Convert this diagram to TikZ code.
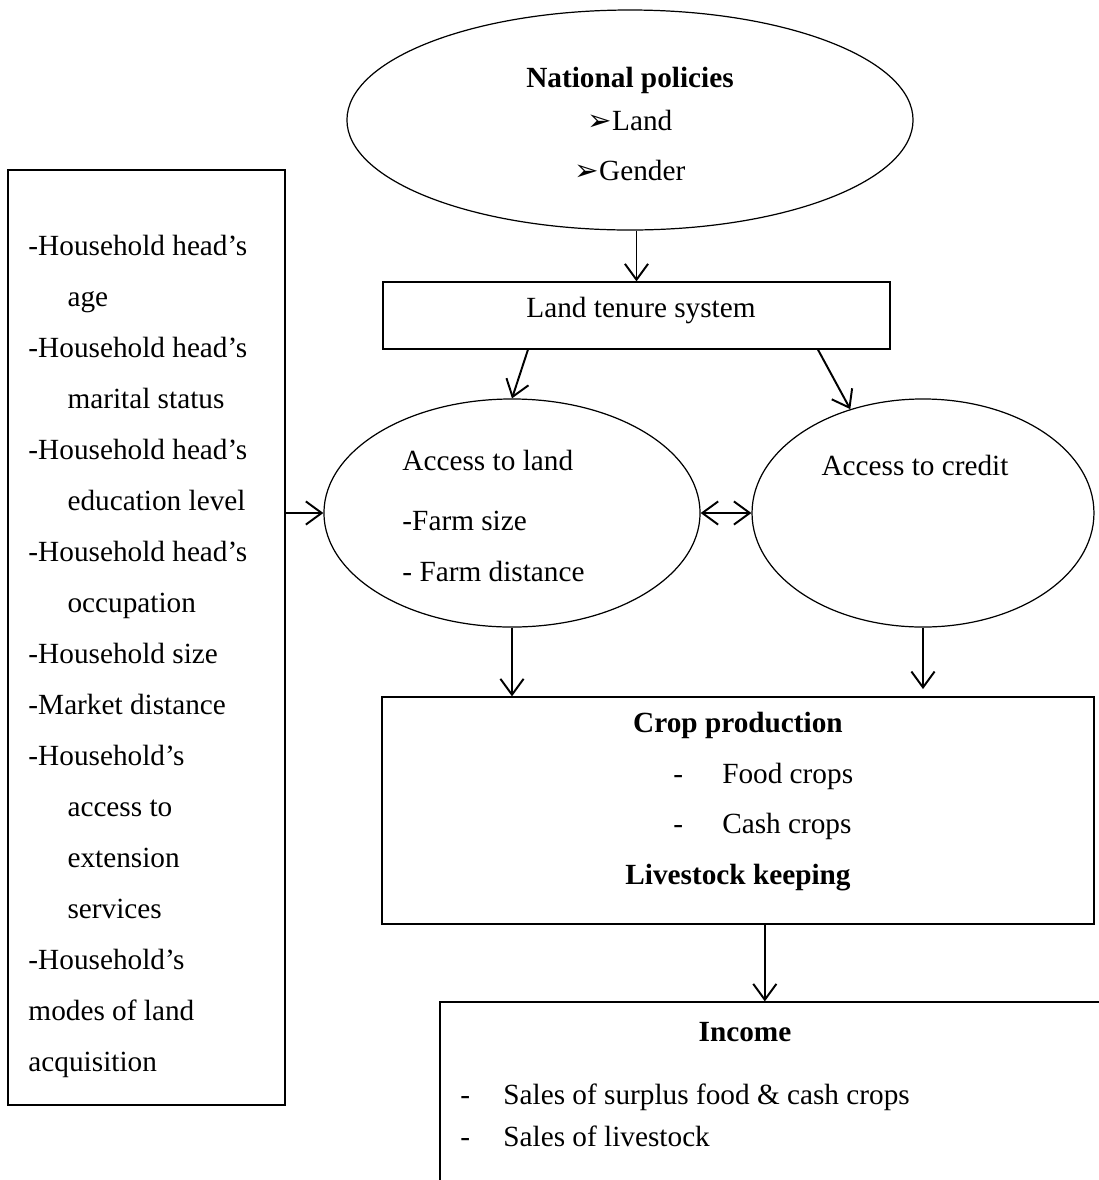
\documentclass[tikz,border=0pt]{standalone}
\usepackage{fontspec}
\setmainfont{Liberation Serif}
\newfontfamily\dingfont{DejaVu Sans}
\usetikzlibrary{arrows.meta,positioning,shapes.geometric}

\begin{document}
\begin{tikzpicture}[x=0.41pt,y=-0.41pt,->,>={Straight Barb[length=6.5pt,width=9.5pt]},on grid,
  every edge/.style={draw,line width=0.8pt},
  frame/.style={draw,line width=0.5pt,rectangle,inner sep=0pt},
  oval/.style={draw,line width=0.5pt,ellipse,inner sep=0pt},
  txt/.style={font=\fontsize{12pt}{20.9pt}\selectfont,inner sep=0pt},
  head/.style={font=\fontsize{12pt}{20.9pt}\selectfont\bfseries,inner sep=0pt}]
\useasboundingbox (0,0) rectangle (1099,1180);

% shapes
\node[oval,minimum width=232.1pt,minimum height=90.2pt] (pol) at (630,120) {};
\node[frame,minimum width=207.9pt,minimum height=27.5pt] (ten) at (636.5,315.5) {};
\node[frame,minimum width=113.6pt,minimum height=383.4pt] (hh) at (146.5,637.5) {};
\node[oval,minimum width=154.2pt,minimum height=93.5pt] (land) at (512,513) {};
\node[oval,minimum width=140.2pt,minimum height=93.5pt] (cred) at (923,513) {};
\node[frame,minimum width=291.9pt,minimum height=93.1pt] (crop) at (738,810.5) {};
\node[frame,minimum width=278.8pt,minimum height=94.3pt] (inc) at (780,1117) {};

% texts
\node[head] (pol_t) at (630,80) {National policies};
\node[txt] (pol_a) [below=16.4pt of pol_t] {{\dingfont ➢}Land};
\node[txt] (pol_b) [below=20.5pt of pol_a] {{\dingfont ➢}Gender};
\node[txt] (ten_t) at (641,310) {Land tenure system};
\node[txt,align=left,anchor=north west] (hh_t) at (28,235) {-Household head’s\\
  \hspace*{16pt}age\\
  -Household head’s\\
  \hspace*{16pt}marital status\\
  -Household head’s\\
  \hspace*{16pt}education level\\
  -Household head’s\\
  \hspace*{16pt}occupation\\
  -Household size\\
  -Market distance\\
  -Household’s\\
  \hspace*{16pt}access to\\
  \hspace*{16pt}extension\\
  \hspace*{16pt}services\\
  -Household’s\\
  modes of land\\
  acquisition};
\node[txt,align=left,anchor=north west] (land_t) at (402,450) {Access to land\\[3.7pt]
  -Farm size\\
  - Farm distance};
\node[txt] (cred_t) at (915,465) {Access to credit};
\node[head] (crop_t) at (738,725) {Crop production};
\node[txt,anchor=west] (crop_a) at (673,776) {\makebox[20pt][l]{-}Food crops};
\node[txt,anchor=west] (crop_b) at (673,826) {\makebox[20pt][l]{-}Cash crops};
\node[head] (crop_c) at (738,878) {Livestock keeping};
\node[head] (inc_t) at (745,1032) {Income};
\node[txt,anchor=west] (inc_a) at (460,1097) {\makebox[17.6pt][l]{-}Sales of surplus food \& cash crops};
\node[txt,anchor=west] (inc_b) at (460,1136) {\makebox[17.6pt][l]{-}Sales of livestock};

% arrows
\path (ten.north |- pol.south) edge (ten.north)
      ([xshift=-44.5pt]ten.south) edge (land.north)
      ([xshift=74.4pt]ten.south) edge (cred.125)
      (hh.east |- land.west) edge (land.west)
      (land.east) edge[<->] (cred.west)
      (land.south) edge (land.south |- crop.north)
      (cred.south) edge ([yshift=3pt]cred.south |- crop.north)
      ([xshift=11pt]crop.south) edge ([xshift=11pt]crop.south |- inc.north);
\end{tikzpicture}
\end{document}
